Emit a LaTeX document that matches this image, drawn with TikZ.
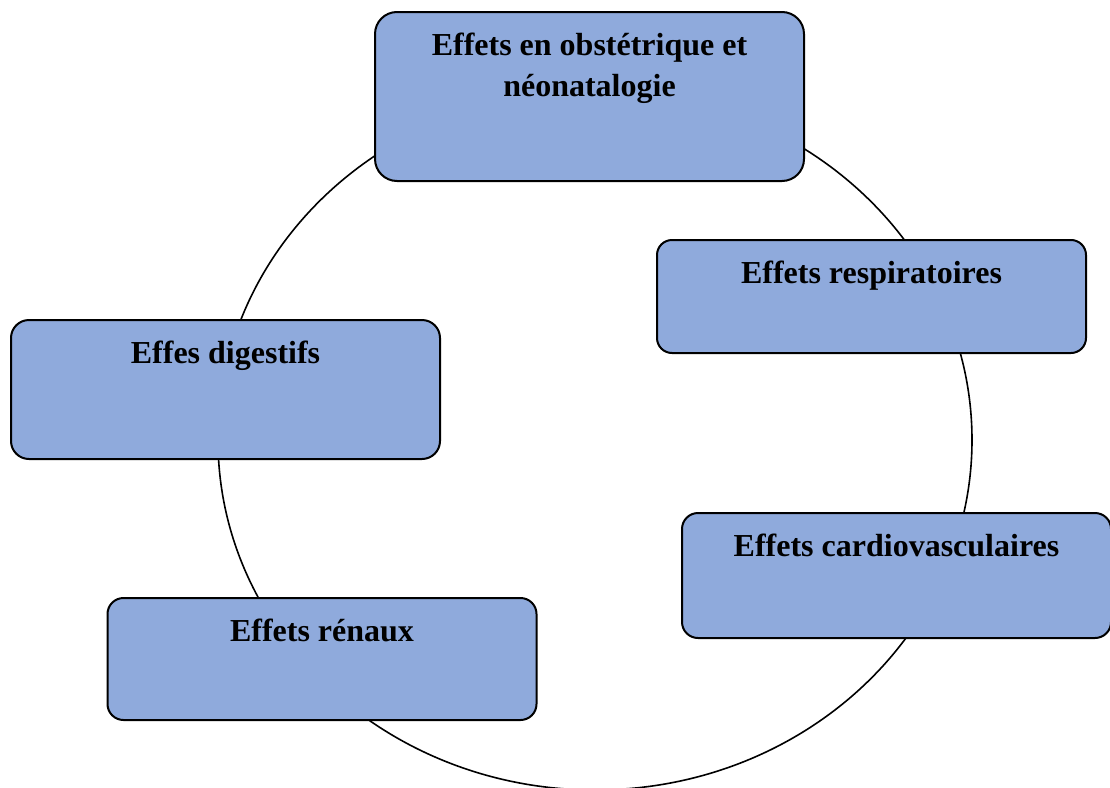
\documentclass[tikz,border=0pt]{standalone}
\usepackage{fontspec}
\setmainfont{Liberation Serif}
\usepackage{tikz}
\definecolor{effectblue}{RGB}{143,170,220}
\newcommand{\effectwidth}{429pt}
\newcommand{\titledrop}{44pt}
\tikzstyle{effect}=[draw, fill=effectblue, line width=2pt, inner sep=0, minimum width=\effectwidth]
\tikzstyle{effecttitle}=[inner sep=0, anchor=base, yshift=-\titledrop, align=center,
                         font=\bfseries\fontsize{32}{41}\selectfont]
\tikzstyle{effectcycle}=[x=1pt, y=-1pt,
                         % Keep the page to the size of the reference.
                         execute at begin picture={\useasboundingbox (0, 0) rectangle (1110, 787);}]

\begin{document}
\begin{tikzpicture}[effectcycle]
        \draw[line width=1.6pt] (595, 440) ellipse [x radius=377pt, y radius=350pt];
        \node[effect, minimum height=169pt, rounded corners=22pt,
              label={[effecttitle, yshift=-41pt]north:Effets en obstétrique et\\néonatalogie}] (obst) at (589.5, 96.5) {};
        \node[effect, minimum height=113pt, rounded corners=15pt,
              label={[effecttitle]north:Effets respiratoires}] (resp) at (871.5, 296.5) {};
        \node[effect, minimum height=125pt, rounded corners=16pt,
              label={[effecttitle]north:Effets cardiovasculaires}] (cardio) at (896.5, 575.5) {};
        \node[effect, minimum height=122pt, rounded corners=16pt,
              label={[effecttitle]north:Effets rénaux}] (renal) at (322, 659) {};
        \node[effect, minimum height=139pt, rounded corners=18pt,
              label={[effecttitle]north:Effes digestifs}] (digest) at (225.5, 389.5) {};
    \end{tikzpicture}
\end{document}
